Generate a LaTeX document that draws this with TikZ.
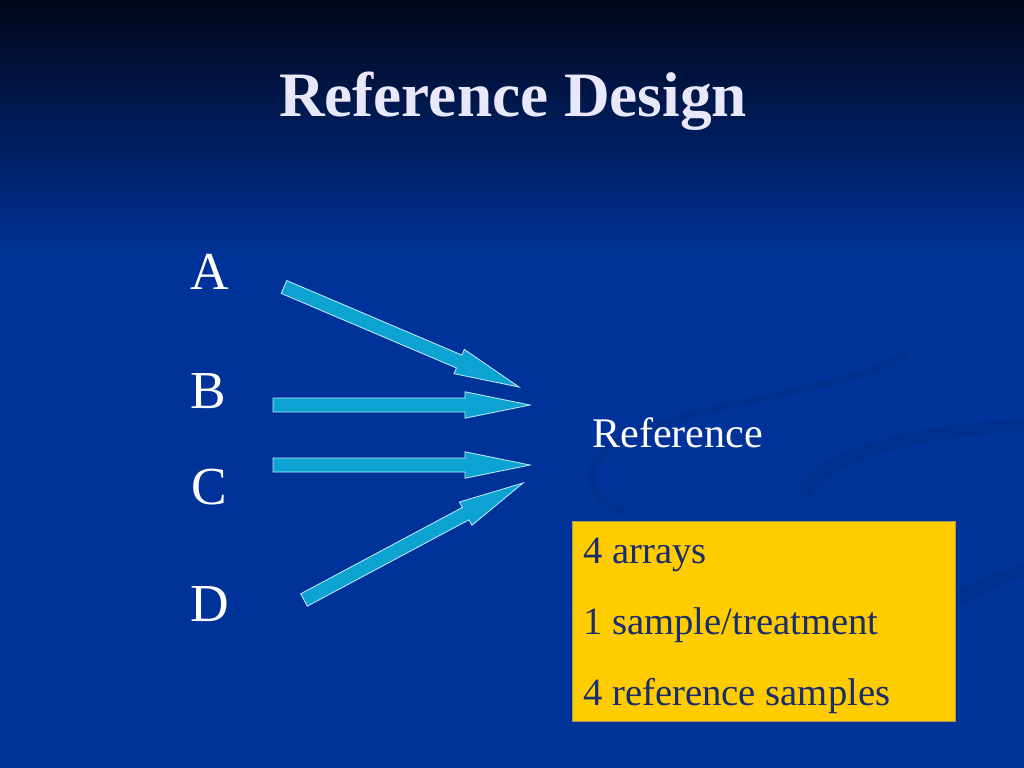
\documentclass[tikz,border=0pt]{standalone}
\usepackage{fontspec}
\setmainfont{Liberation Serif}
\usepackage{tikz}
\usetikzlibrary{calc}
\definecolor{slidetop}{RGB}{0,6,26}
\definecolor{slidemid}{RGB}{0,28,90}
\definecolor{slideblue}{RGB}{0,51,153}
\definecolor{swirlblue}{RGB}{0,40,128}
\definecolor{arrowcyan}{RGB}{12,162,210}
\definecolor{arrowedge}{RGB}{190,232,248}
\definecolor{titlewhite}{RGB}{232,232,250}
\definecolor{notegold}{RGB}{255,204,0}
\definecolor{noteedge}{RGB}{170,150,90}
\definecolor{noteink}{RGB}{25,45,110}

\begin{document}
\begin{tikzpicture}[
  x=0.025cm, y=-0.025cm,
  title/.style={anchor=base, text=titlewhite, inner sep=0pt, font=\fontsize{45}{48}\selectfont\bfseries},
  letter/.style={anchor=base west, text=white, inner sep=0pt, font=\fontsize{38}{40}\selectfont},
  blockarr/.style={fill=arrowcyan, draw=arrowedge, line width=0.6pt, line join=miter},
  note/.style={draw=noteedge, fill=notegold, line width=0.6pt, anchor=north west, inner sep=0pt,
    minimum width=9.575cm, minimum height=5cm},
  noteline/.style={anchor=base west, text=noteink, inner sep=0pt, font=\fontsize{27.5}{30}\selectfont},
  swirl/.style={draw=swirlblue, line width=#1, line cap=round, opacity=0.35},
]
  % background
  \fill[slideblue] (0,0) rectangle (1024,768);
  \shade[top color=slidetop, middle color=slidemid, bottom color=slideblue] (0,0) rectangle (1024,260);
  \useasboundingbox (0,0) rectangle (1024,768);
  \draw[swirl=5pt] (905,352) .. controls (880,385) and (700,400) .. (620,440) .. controls (580,462) and (585,500) .. (625,512);
  \draw[swirl=9pt] (805,490) .. controls (830,450) and (930,430) .. (1024,425);
  \draw[swirl=9pt] (955,600) .. controls (985,585) and (1005,575) .. (1024,570);

  \node[title] (head) at (513,117) {Reference Design};

  % treatments
  \node[letter] (lA) at (190,289) {A};
  \node[letter] (lB) at (190,408) {B};
  \node[letter] (lC) at (191,504) {C};
  \node[letter] (lD) at (190,621) {D};

  \node[anchor=base west, text=white, inner sep=0pt, font=\fontsize{30}{34}\selectfont] (ref) at (592,447) {Reference};

  % block arrows
  \coordinate (tA) at (284,287);
  \coordinate (hA) at (519,387);
  \coordinate (tB) at (273,405);
  \coordinate (hB) at (530,405);
  \coordinate (tC) at (273,465);
  \coordinate (hC) at (530,465);
  \coordinate (tD) at (304,600);
  \coordinate (hD) at (523,483);
  \foreach \n in {A,B,C,D}{
    \coordinate (k\n) at ($(h\n)!1.625cm!(t\n)$);
    \draw[blockarr] ($(t\n)!0.175cm!90:(h\n)$) -- ($(k\n)!0.175cm!90:(h\n)$) -- ($(k\n)!0.33cm!90:(h\n)$)
      -- (h\n) -- ($(k\n)!0.33cm!-90:(h\n)$) -- ($(k\n)!0.175cm!-90:(h\n)$) -- ($(t\n)!0.175cm!-90:(h\n)$) -- cycle;
  }

  % summary box
  \node[note] (box) at (572,521) {};
  \node[noteline] (n1) at (583,563) {4 arrays};
  \node[noteline] (n2) at (583,634) {1 sample/treatment};
  \node[noteline] (n3) at (583,705) {4 reference samples};
\end{tikzpicture}
\end{document}
